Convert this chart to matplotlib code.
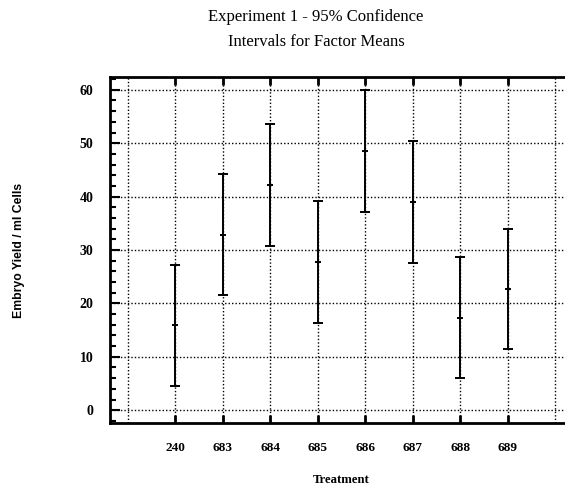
import numpy as np
import matplotlib
matplotlib.use("Agg")
import matplotlib.pyplot as plt
from matplotlib.ticker import MultipleLocator

treatments = ['240', '683', '684', '685', '686', '687', '688', '689']
means = [15.9, 32.9, 42.2, 27.8, 48.5, 39.0, 17.3, 22.7]
lower = [4.6, 21.6, 30.8, 16.4, 37.1, 27.6, 6.0, 11.4]
upper = [27.2, 44.2, 53.6, 39.2, 59.9, 50.4, 28.6, 34.0]

x = np.arange(len(treatments))
m = np.array(means)
err = [m - np.array(lower), np.array(upper) - m]

fig = plt.figure(figsize=(5.65, 4.86), dpi=100)
# axes runs past the right edge of the picture, like the scanned original
ax = fig.add_axes([110/565, 1 - 423/486, 480/565, 346/486])

ax.errorbar(x, means, yerr=err, fmt='none', ecolor='black', elinewidth=1.4,
            capsize=3.8, capthick=1.4)
ax.plot(x, means, linestyle='none', marker='_', ms=4, mew=1.4, color='black')

ax.set_xlim(-1.37, 8.73)
ax.set_ylim(-2.4, 62.4)

ax.set_xticks(x)
ax.set_xticklabels(treatments, fontfamily='Liberation Serif', fontweight='bold', fontsize=9.5)
ax.yaxis.set_major_locator(MultipleLocator(10))
ax.yaxis.set_minor_locator(MultipleLocator(2))
for lab in ax.get_yticklabels():
    lab.set_fontfamily('Liberation Serif')
    lab.set_fontweight('bold')
    lab.set_fontsize(10)

ax.tick_params(axis='x', direction='in', top=True, bottom=True, length=6, width=2, pad=14)
ax.tick_params(axis='y', which='major', direction='in', length=7, width=1.5, pad=12)
ax.tick_params(axis='y', which='minor', direction='in', length=4, width=1.5)

# extra dotted grid columns outside the treatment positions
dots = (0, (1, 1.5))
for gx in [-1, 8]:
    ax.axvline(gx, color='black', linestyle=dots, linewidth=1, zorder=0)
ax.grid(True, which='major', color='black', linestyle=dots, linewidth=1)
ax.set_axisbelow(True)

for s in ['left', 'bottom', 'top']:
    ax.spines[s].set_linewidth(2)
ax.spines['right'].set_visible(False)

fig.text(316/565, 1 - 17/486, 'Experiment 1 - 95% Confidence', ha='center', va='center',
         fontfamily='Liberation Serif', fontsize=12)
fig.text(316/565, 1 - 42/486, 'Intervals for Factor Means', ha='center', va='center',
         fontfamily='Liberation Serif', fontsize=12)
fig.text(19/565, 1 - 250/486, 'Embryo Yield / ml Cells', rotation=90, ha='center', va='center',
         fontfamily='Liberation Sans', fontweight='bold', fontsize=8.8)
fig.text(341/565, 1 - 480/486, 'Treatment', ha='center', va='center',
         fontfamily='Liberation Serif', fontweight='bold', fontsize=9.2)

fig.savefig('out.png', dpi=100)
